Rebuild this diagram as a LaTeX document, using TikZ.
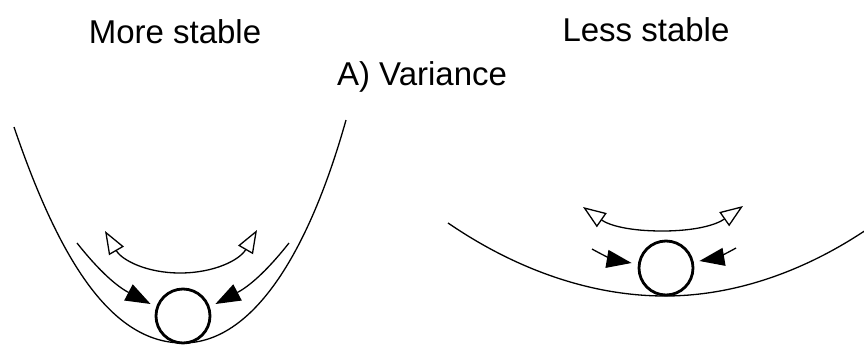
\documentclass[tikz,border=0pt]{standalone}
\usepackage{fontspec}
\setmainfont{Liberation Sans}
\usepackage{tikz}
\usetikzlibrary{arrows.meta,calc}

\begin{document}
\begin{tikzpicture}[
  x=1pt, y=-1pt,
  font=\fontsize{33}{38}\selectfont,
  well/.style={line width=1.3pt},
  ball/.style={draw, circle, line width=2.8pt, inner sep=0pt, minimum size=54pt},
  push/.style={line width=1.3pt, -{Triangle[length=25pt, width=18pt]}},
  swing/.style={line width=1.3pt, {Triangle[open, length=23pt, width=17pt]}-{Triangle[open, length=23pt, width=17pt]}}
]
\useasboundingbox (0,0) rectangle (864,348);

% labels
\node (more) at (175,32) {More stable};
\node (less) at (646,30) {Less stable};
\node (var) at (422,77) {A) Variance};

% steep well
\draw[well] (14,127) .. controls (60,262) and (112,343) .. (183,343)
  .. controls (252,343) and (308,255) .. (346,120);
\node[ball] (lball) at (183,316) {};
\coordinate (lpl) at (77,243);
\coordinate (lpr) at (289,243);
\coordinate (lsl) at (105,231);
\coordinate (lsr) at (257,230);
\draw[push] (lpl) to[bend right=12] ($(lball.west)+(-4,-12)$);
\draw[push] (lpr) to[bend left=12] ($(lball.east)+(4,-12)$);
\draw[swing] (lsl) to[out=-60, in=180] (180,273) to[out=0, in=-120] (lsr);

% shallow well
\draw[well] (448,223) parabola bend (665,296) (866,230);
\node[ball] (rball) at (666,268) {};
\coordinate (rpl) at (592,249);
\coordinate (rpr) at (736,248);
\draw[push] (rpl) to[bend right=10] ($(rball.west)+(-6,-5)$);
\draw[push] (rpr) to[bend left=10] ($(rball.east)+(5,-7)$);
\coordinate (rsl) at (583,207);
\coordinate (rsr) at (743,206);
\draw[swing] (rsl) to[out=-35, in=180] (662,231) to[out=0, in=-145] (rsr);
\end{tikzpicture}
\end{document}
